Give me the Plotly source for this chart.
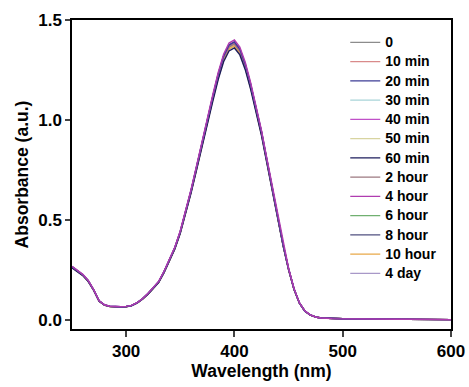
import plotly.graph_objects as go

wavelength = [250, 255, 260, 265, 270, 275, 280, 285, 290, 295, 300, 305, 310, 315, 320,
              325, 330, 335, 340, 345, 350, 355, 360, 365, 370, 375, 380, 385, 390, 395,
              400, 405, 410, 415, 420, 425, 430, 435, 440, 445, 450, 455, 460, 465, 470,
              475, 480, 490, 500, 520, 550, 580, 600]
absorbance = [0.265, 0.245, 0.225, 0.195, 0.15, 0.095, 0.075, 0.068, 0.066, 0.066, 0.067,
              0.072, 0.085, 0.105, 0.13, 0.16, 0.19, 0.24, 0.3, 0.36, 0.44, 0.54, 0.645,
              0.76, 0.88, 1.0, 1.11, 1.22, 1.31, 1.365, 1.38, 1.345, 1.27, 1.17, 1.06,
              0.935, 0.795, 0.655, 0.515, 0.375, 0.255, 0.155, 0.085, 0.045, 0.025, 0.015,
              0.01, 0.007, 0.006, 0.005, 0.004, 0.003, 0.002]

labels = ["0", "10 min", "20 min", "30 min", "40 min", "50 min", "60 min",
          "2 hour", "4 hour", "6 hour", "8 hour", "10 hour", "4 day"]
peaks = [1.37, 1.38, 1.39, 1.38, 1.39, 1.37, 1.36, 1.38, 1.40, 1.38, 1.39, 1.37, 1.38]
colors = ["#8c8c8c", "#d98a8a", "#3c3c96", "#a8d4d8", "#c050c8", "#d8d4a0", "#1c1c5c",
          "#9c7880", "#b03cb0", "#70b070", "#505080", "#e8a848", "#a898c8"]
draw_order = [0, 3, 5, 12, 9, 11, 1, 7, 6, 10, 4, 2, 8]

fig = go.Figure()
for i in draw_order:
    scale = peaks[i] / max(absorbance)
    fig.add_trace(go.Scatter(
        x=wavelength, y=[a * scale for a in absorbance], mode="lines",
        name='<span style="font-size:14px">' + labels[i] + "</span>",
        line=dict(color=colors[i], width=1.4), legendrank=i + 1))

font_family = "Liberation Sans, Arial, sans-serif"
fig.update_layout(
    width=469, height=387,
    margin=dict(l=72, r=18, t=20, b=58),
    paper_bgcolor="white", plot_bgcolor="white",
    font=dict(family=font_family, size=14, color="black", weight="bold"),
    showlegend=True,
    legend=dict(x=0.721, y=0.975, xanchor="left", yanchor="top",
                bgcolor="rgba(0,0,0,0)", borderwidth=0,
                font=dict(size=12.5, family=font_family, weight="bold"),
                tracegroupgap=0),
)
fig.update_xaxes(range=[250, 600], tickvals=[300, 400, 500, 600], ticks="outside",
                 ticklen=6, tickwidth=1.5, showline=True, linecolor="black", linewidth=1.5,
                 mirror=True, showgrid=False, zeroline=False, automargin=False,
                 tickfont=dict(size=17, weight="bold"),
                 title=dict(text="Wavelength (nm)", font=dict(size=17.5, weight="bold"), standoff=5))
fig.update_yaxes(range=[-0.045, 1.5], tickvals=[0, 0.5, 1.0, 1.5], ticktext=["0.0", "0.5", "1.0", "1.5"],
                 ticks="outside", ticklen=5, tickwidth=1.5, showline=True, linecolor="black",
                 linewidth=1.5, mirror=True, showgrid=False, zeroline=False, automargin=False,
                 tickfont=dict(size=17, weight="bold"),
                 title=dict(text="Absorbance (a.u.)", font=dict(size=17.5, weight="bold"), standoff=5))

fig.write_html("out.html")
